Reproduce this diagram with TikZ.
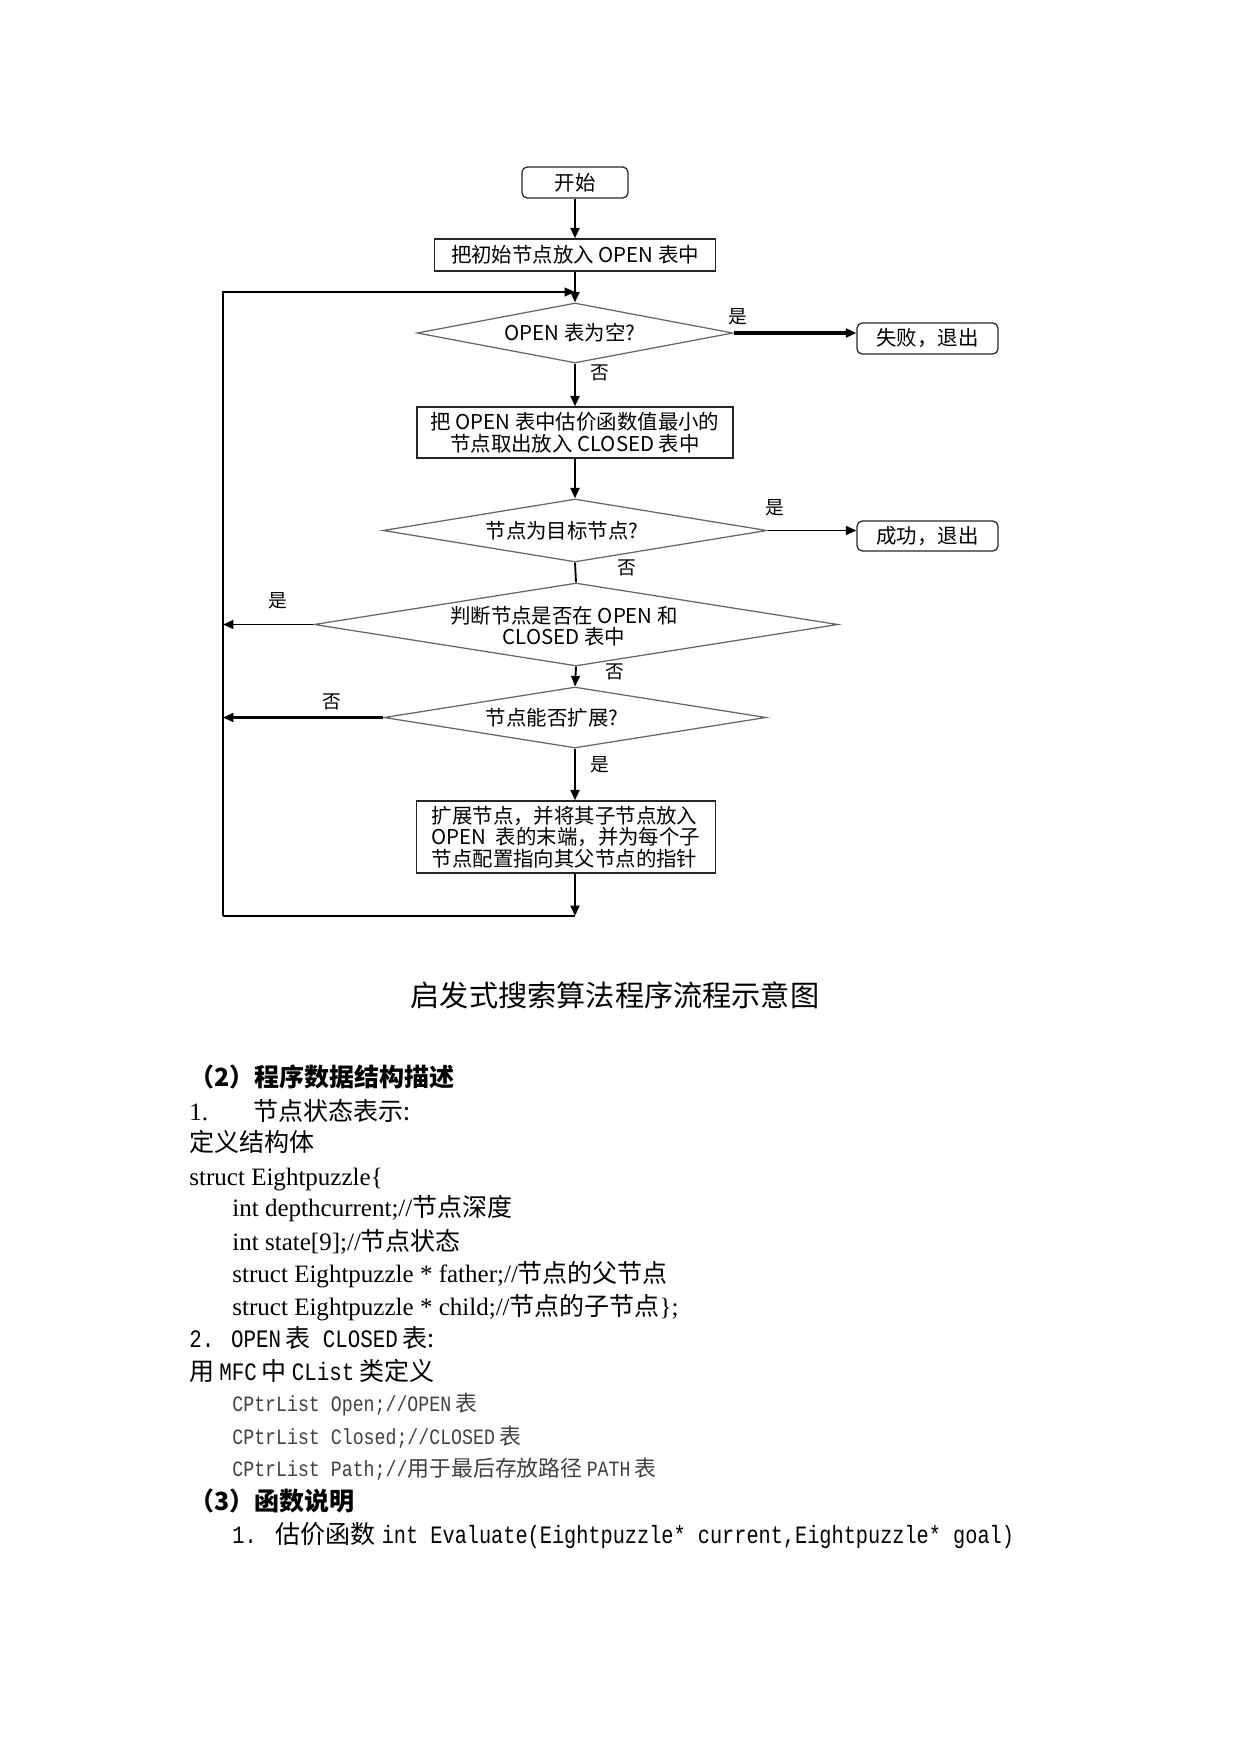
\documentclass[tikz,border=0pt]{standalone}
\usepackage{fontspec}
\setmainfont{Liberation Serif}
\newfontfamily\zh{Noto Sans CJK SC}
\newfontfamily\smono[FakeStretch=0.833]{Liberation Mono}
\newfontfamily\smonob[FakeStretch=0.81]{Liberation Mono}
\usetikzlibrary{shapes.geometric,arrows.meta}
\newcommand\px[1]{#1*0.4797pt}
\begin{document}
\begin{tikzpicture}[x=0.4797pt,y=-0.4797pt,
  fbox/.style={draw=black!85, line width=0.6pt, inner sep=0, align=center,
    font=\zh\fontsize{9.8pt}{10.4pt}\selectfont},
  rbox/.style={fbox, rounded corners=2.5pt},
  dia/.style={diamond, draw=black!60, line width=0.6pt, inner sep=0},
  ftext/.style={inner sep=0, align=center, font=\zh\fontsize{9.8pt}{9.8pt}\selectfont},
  lab/.style={inner sep=0, font=\zh\fontsize{9pt}{9pt}\selectfont},
  tip/.style={-{Triangle[length=5pt,width=4.2pt]}},
  conn/.style={tip, line width=0.9pt},
  thickconn/.style={tip, line width=1.2pt},
  heavyconn/.style={tip, line width=1.5pt},
  txt/.style={anchor=base west, inner sep=0, font=\fontsize{12pt}{14pt}\selectfont},
  code/.style={anchor=base west, inner sep=0, text=black!75, font=\fontsize{10.5pt}{12pt}\selectfont}]
\useasboundingbox (0,0) rectangle (1241,1754);
% flowchart nodes
\node[rbox, minimum width={\px{106}}, minimum height={\px{31}}] (b0) at (575,182.5) {开始};
\node[fbox, minimum width={\px{281}}, minimum height={\px{32}}] (b1) at (575,255) {把初始节点放入 OPEN 表中};
\node[dia, minimum width={\px{316}}, minimum height={\px{60}}] (d1) at (575,333) {};
\node[ftext] (t1) at (570,333) {OPEN 表为空?};
\node[rbox, minimum width={\px{141}}, minimum height={\px{31}}] (fail) at (927.5,338.5) {失败，退出};
\node[fbox, minimum width={\px{316}}, minimum height={\px{51}}] (b2) at (575,432.5) {把 OPEN 表中估价函数值最小的\\节点取出放入 CLOSED 表中};
\node[dia, minimum width={\px{384}}, minimum height={\px{63}}] (d2) at (575,530.5) {};
\node[ftext] (t2) at (562,530.5) {节点为目标节点?};
\node[rbox, minimum width={\px{141}}, minimum height={\px{30}}] (succ) at (927.5,536) {成功，退出};
\node[dia, minimum width={\px{524}}, minimum height={\px{83}}] (d3) at (576,624.5) {};
\node[ftext] (t3) at (564,626) {判断节点是否在 OPEN 和\\CLOSED 表中};
\node[dia, minimum width={\px{382}}, minimum height={\px{61}}] (d4) at (575,717.5) {};
\node[ftext] (t4) at (552,717.5) {节点能否扩展?};
\node[fbox, align=left, minimum width={\px{299}}, minimum height={\px{72}}] (b5) at (566,837) {扩展节点，并将其子节点放入\\OPEN\ \ 表的末端，并为每个子\\节点配置指向其父节点的指针};
\coordinate (LT) at (223,292);
\coordinate (LB) at (223,916);
\coordinate (MB) at (575,916);
% labels
\node[lab] (l1) at (738,317) {是};
\node[lab] (l2) at (600,373) {否};
\node[lab] (l3) at (775,508) {是};
\node[lab] (l4) at (627,568) {否};
\node[lab] (l5) at (278,601) {是};
\node[lab] (l6) at (615,672) {否};
\node[lab] (l7) at (332,702) {否};
\node[lab] (l8) at (600,765) {是};
% connectors
\draw[thickconn] (b0.south) -- (b1.north);
\draw[thickconn] (b1.south) -- (d1.north);
\draw[heavyconn] (d1.east) -- (d1.east -| fail.west);
\draw[thickconn] (d1.south) -- (b2.north);
\draw[thickconn] (b2.south) -- (d2.north);
\draw[conn] (d2.east) -- (d2.east -| succ.west);
\draw[line width=0.9pt] (d2.south) -- (d3.north);
\draw[conn] (d3.west) -- (d3.west -| LT);
\draw[conn] (d3.south) -- (d4.north);
\draw[heavyconn] (d4.west) -- (d4.west -| LT);
\draw[thickconn] (d4.south) -- (d4.south |- b5.north);
\draw[thickconn] (b5.south -| MB) -- (MB);
\draw[line width=0.6pt] (MB) -- (LB);
\draw[conn] (LB) -- (LT) -- (LT -| d1.north);
% caption
\node[inner sep=0, font=\zh\fontsize{14pt}{16pt}\selectfont] (cap) at (615,995) {启发式搜索算法程序流程示意图};
% text
\node[txt] (s1) at (189,1086) {\zh\bfseries （2）程序数据结构描述};
\node[txt] (s2) at (189,1120) {1.\hspace{21.6pt}{\zh 节点状态表示:}};
\node[txt] (s3) at (189,1151) {\zh 定义结构体};
\node[txt] (s4) at (189,1185) {struct Eightpuzzle\{};
\node[txt] (s5) at (232,1216) {int depthcurrent;//{\zh 节点深度}};
\node[txt] (s6) at (232,1250) {int state[9];//{\zh 节点状态}};
\node[txt] (s7) at (232,1282) {struct Eightpuzzle * father;//{\zh 节点的父节点}};
\node[txt] (s8) at (232,1315) {struct Eightpuzzle * child;//{\zh 节点的子节点}\};};
\node[txt] (s9) at (189,1347) {{\smono 2. OPEN}\hspace{2pt}{\zh 表}{\smono\ CLOSED}\hspace{2pt}{\zh 表:}};
\node[txt] (s10) at (189,1380) {{\zh 用}\hspace{2.4pt}{\smono MFC}\hspace{2.4pt}{\zh 中}\hspace{2.4pt}{\smono CList}\hspace{2.4pt}{\zh 类定义}};
\node[code] (s11) at (232,1411) {{\smono CPtrList Open;//OPEN}\hspace{2pt}{\zh 表}};
\node[code] (s12) at (232,1444) {{\smono CPtrList Closed;//CLOSED}\hspace{2pt}{\zh 表}};
\node[code] (s13) at (232,1476) {{\smono CPtrList Path;//}{\zh 用于最后存放路径}\hspace{2pt}{\smono PATH}\hspace{2pt}{\zh 表}};
\node[txt] (s14) at (189,1510) {\zh\bfseries （3）函数说明};
\node[txt] (s15) at (232,1543) {{\smonob 1.}\hspace{9pt}{\zh 估价函数}\hspace{3pt}{\smonob int Evaluate(Eightpuzzle* current,Eightpuzzle* goal)}};
\end{tikzpicture}
\end{document}
